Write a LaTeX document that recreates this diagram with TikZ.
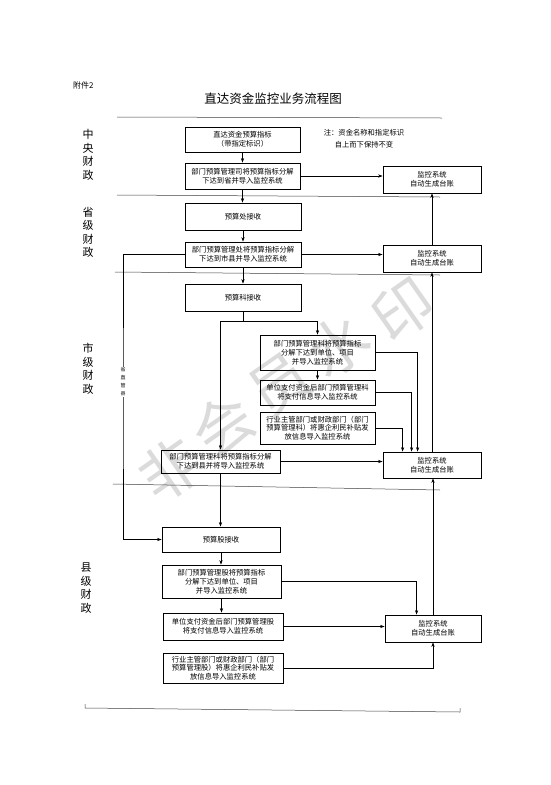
\documentclass[tikz,border=0pt]{standalone}
\usepackage{fontspec}
\newfontfamily\cjk{Noto Sans CJK SC}
\usetikzlibrary{arrows.meta}
\begin{document}
\begin{tikzpicture}[x=1pt,y=-1pt,
  box/.style={draw, line width=0.8pt, align=center, font=\cjk\fontsize{7.3}{8.8}\selectfont, inner sep=1pt},
  arr/.style={draw, line width=0.55pt, -{Stealth[length=4.5pt,width=3.2pt]}},
  ln/.style={draw, line width=0.55pt},
  sep/.style={draw, line width=0.5pt, black!75},
  side/.style={font=\cjk\fontsize{11}{13.5}\selectfont, align=center, inner sep=0pt},
  wm/.style={font=\cjk\fontsize{60}{60}\selectfont, text=black!14, rotate=35, inner sep=0pt},
]
\useasboundingbox (0,0) rectangle (550,785);
\fill[white] (0,0) rectangle (550,785);

% watermark
\node[wm] (w1) at (170,470) {非};
\node[wm] (w2) at (223,426) {会};
\node[wm] (w3) at (280,385) {员};
\node[wm] (w4) at (338,346) {水};
\node[wm] (w5) at (403,310) {印};

% header
\node[font=\cjk\fontsize{8}{9}\selectfont, anchor=west, inner sep=0pt] (fj) at (73,85) {附件2};
\node[font=\cjk\fontsize{12.5}{14}\selectfont, inner sep=0pt] (title) at (273,99) {直达资金监控业务流程图};
\node[font=\cjk\fontsize{7.3}{12}\selectfont, align=center, inner sep=0pt] (note) at (364,139) {注：资金名称和指定标识\\自上而下保持不变};

% separators
\draw[sep] (117,117) -- (442,118);
\draw[sep] (117,195) -- (440,197);
\draw[sep] (115,272) -- (440,275);
\draw[sep] (113,484) -- (440,490);
\draw[sep] (85,704) -- (85,708) -- (460,712) -- (460,708);

% side labels
\node[side] (s1) at (88,155) {中\\央\\财\\政};
\node[side] (s2) at (88,232.5) {省\\级\\财\\政};
\node[side] (s3) at (88,369) {市\\级\\财\\政};
\node[side] (s4) at (86,588) {县\\级\\财\\政};

% boxes
\node[box, minimum width=115pt, minimum height=25pt] (A) at (242.5,139.5) {直达资金预算指标\\（带指定标识）};
\node[box, minimum width=115pt, minimum height=26pt] (B) at (242.5,176) {部门预算管理司将预算指标分解\\下达到省并导入监控系统};
\node[box, minimum width=116pt, minimum height=27pt] (C) at (243,216.5) {预算处接收};
\node[box, minimum width=116pt, minimum height=25pt] (D) at (243,254.5) {部门预算管理处将预算指标分解\\下达到市县并导入监控系统};
\node[box, minimum width=116pt, minimum height=27pt] (E) at (243,297.5) {预算科接收};
\node[box, minimum width=115pt, minimum height=35pt] (F) at (317.5,352.5) {部门预算管理科将预算指标\\分解下达到单位、项目\\并导入监控系统};
\node[box, minimum width=115pt, minimum height=25pt] (H) at (317.5,392.5) {单位支付资金后部门预算管理科\\将支付信息导入监控系统};
\node[box, minimum width=115pt, minimum height=32pt] (I) at (317.5,428) {行业主管部门或财政部门（部门\\预算管理科）将惠企利民补贴发\\放信息导入监控系统};
\node[box, minimum width=119pt, minimum height=23pt] (G) at (220.5,461.5) {部门预算管理科将预算指标分解\\下达到县并将导入监控系统};
\node[box, minimum width=118pt, minimum height=25pt] (J) at (221,539.5) {预算股接收};
\node[box, minimum width=119pt, minimum height=33pt] (K) at (221.5,581.5) {部门预算管理股将预算指标\\分解下达到单位、项目\\并导入监控系统};
\node[box, minimum width=120pt, minimum height=27pt] (L) at (223,626.5) {单位支付资金后部门预算管理股\\将支付信息导入监控系统};
\node[box, minimum width=120pt, minimum height=30pt] (N) at (223,668) {行业主管部门或财政部门（部门\\预算管理股）将惠企利民补贴发\\放信息导入监控系统};

\node[box, minimum width=98pt, minimum height=27pt] (M1) at (432,179.5) {监控系统\\自动生成台账};
\node[box, minimum width=98pt, minimum height=27pt] (M2) at (432,258.5) {监控系统\\自动生成台账};
\node[box, minimum width=98pt, minimum height=26pt] (M3) at (432,465) {监控系统\\自动生成台账};
\node[box, minimum width=96pt, minimum height=27pt] (M4) at (433,628.5) {监控系统\\自动生成台账};

% central / provincial
\draw[arr] (A.south) -- (B.north);
\draw[arr] (B.east) -- (B.east -| M1.west);
\draw[arr] (B.south) -- (B.south |- C.north);
\draw[arr] (C.south) -- (C.south |- D.north);
\draw[arr] (D.east) -- (D.east -| M2.west);
\draw[arr] (M2.north) -- (M1.south);
\draw[arr] (D.south) -- (E.north);

% direct-to-county line
\coordinate (Lx) at (123,400);
\draw[arr] (D.west) -| (Lx) |- (J.west);
\node[font=\cjk\fontsize{5}{8}\selectfont, align=center, fill=white, inner sep=0.6pt] (szg) at (123,382) {省\\直\\管\\县};

% city
\coordinate (ES) at (243,321);
\draw[ln] (E.south) -- (ES);
\draw[arr] (ES) -| (F.north);
\draw[arr] (ES) -| (G.north);
\draw[arr] (F.south) -- (H.north);
\draw[arr] (F.east) -| ([xshift=35pt]M3.north west);
\draw[arr] (H.east) -| ([xshift=29pt]M3.north west);
\draw[arr] (I.east) -| ([xshift=20pt]M3.north west);
\draw[arr] (G.east) -- (G.east -| M3.west);
\draw[arr] (M3.north) -- (M2.south);

% county
\draw[arr] (G.south) -- (G.south |- J.north);
\draw[arr] (J.south) -- (J.south |- K.north);
\draw[arr] (K.south) -- (K.south |- L.north);
\draw[arr] (K.east) -| ([xshift=32pt]M4.north west);
\draw[arr] (L.east) -- (L.east -| M4.west);
\draw[arr] (N.east) -| (M4.south);
\draw[arr] (M4.north) -- (M4.north |- M3.south);
\end{tikzpicture}
\end{document}
